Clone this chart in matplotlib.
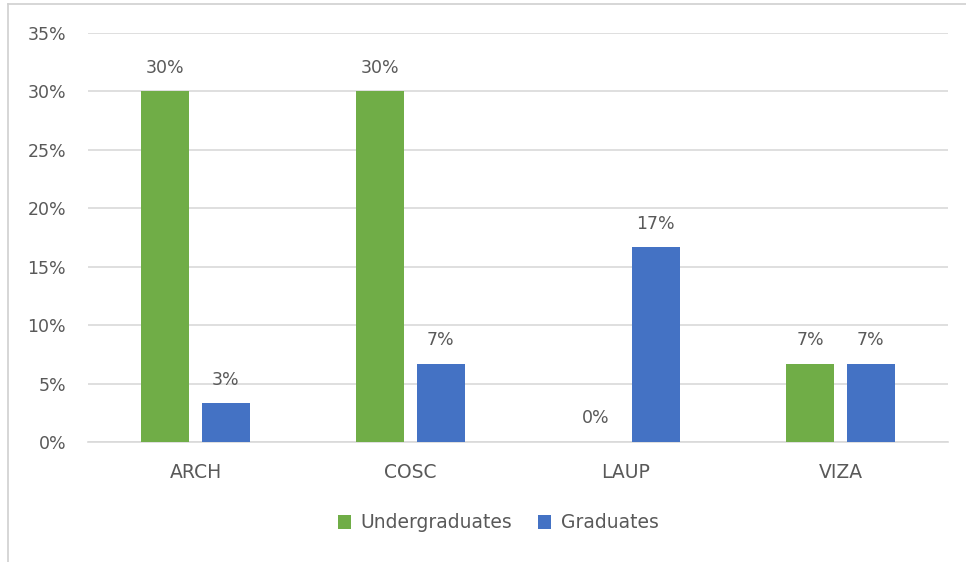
import matplotlib
matplotlib.use("Agg")
from matplotlib import pyplot as plt
import matplotlib.lines as mlines
import numpy as np

# values (fraction of students)
departments = ["ARCH", "COSC", "LAUP", "VIZA"]
undergrad = [0.30, 0.30, 0.0, 0.0667]
grad = [0.0333, 0.0667, 0.1667, 0.0667]
undergrad_labels = ["30%", "30%", "0%", "7%"]
grad_labels = ["3%", "7%", "17%", "7%"]
yticks = [0, 0.05, 0.10, 0.15, 0.20, 0.25, 0.30, 0.35]

green = "#70AD47"
blue = "#4472C4"
txt = "#595959"
grid = "#D9D9D9"

plt.rcParams["font.family"] = ["DejaVu Sans"]

fig = plt.figure(figsize=(9.66, 5.62), dpi=100)
ax = fig.add_axes([88/966, 1-442/562, 860/966, 409/562])

x = np.arange(len(departments))
w = 0.223
off = 0.14
b1 = ax.bar(x - off, undergrad, w, color=green, label="Undergraduates", zorder=3)
b2 = ax.bar(x + off, grad, w, color=blue, label="Graduates", zorder=3)

for rects, labs in ((b1, undergrad_labels), (b2, grad_labels)):
    for r, lab in zip(rects, labs):
        ax.annotate(lab, (r.get_x() + r.get_width()/2, r.get_height()),
                    xytext=(0, 10.5), textcoords="offset points",
                    ha="center", va="bottom", fontsize=12.5, color=txt)

ax.set_xlim(-0.5, len(departments) - 0.5)
ax.set_ylim(0, 0.35)
ax.set_yticks(yticks)
ax.set_yticklabels([f"{int(round(t*100))}%" for t in yticks])
ax.set_xticks(x)
ax.set_xticklabels(departments)
ax.yaxis.grid(True, color=grid, linewidth=1.2, zorder=0)
ax.set_axisbelow(True)
for s in ["top", "right", "left"]:
    ax.spines[s].set_visible(False)
ax.spines["bottom"].set_color(grid)
ax.spines["bottom"].set_linewidth(1.2)
ax.tick_params(axis="both", length=0, colors=txt)
ax.tick_params(axis="y", pad=15.8, labelsize=12.5)
ax.tick_params(axis="x", pad=15, labelsize=13.5)

leg = fig.legend(handles=[b1, b2], loc="center", bbox_to_anchor=(498/966, 1-523/562),
                 ncol=2, frameon=False, fontsize=13.5, handlelength=0.7,
                 handleheight=0.7, handletextpad=0.5, columnspacing=1.4)
for t in leg.get_texts():
    t.set_color(txt)

# light chart border (left and top visible in the screenshot)
fig.add_artist(mlines.Line2D([8/966, 8/966], [0, 1-4/562], color="#D0D0D0", lw=1.2))
fig.add_artist(mlines.Line2D([8/966, 1], [1-4/562, 1-4/562], color="#D0D0D0", lw=1.2))

fig.savefig("out.png", dpi=100)
